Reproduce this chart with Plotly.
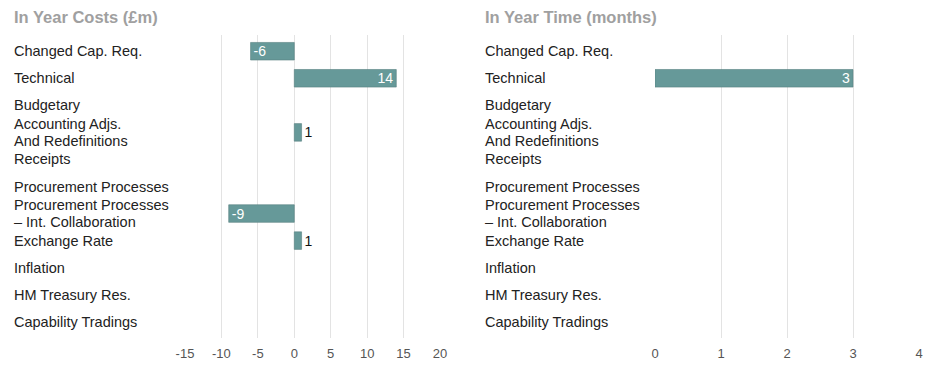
import plotly.graph_objects as go

categories = [
    "Changed Cap. Req.",
    "Technical",
    "Budgetary",
    "Accounting Adjs.<br>And Redefinitions",
    "Receipts",
    "Procurement Processes",
    "Procurement Processes<br>– Int. Collaboration",
    "Exchange Rate",
    "Inflation",
    "HM Treasury Res.",
    "Capability Tradings",
]
cost_values = [-6, 14, None, 1, None, None, -9, 1, None, None, None]
time_values = [None, 3, None, None, None, None, None, None, None, None, None]
cost_ticks = [-15, -10, -5, 0, 5, 10, 15, 20]
time_ticks = [0, 1, 2, 3, 4]
titles = ["In Year Costs (£m)", "In Year Time (months)"]

OFF = 8  # page body margin
W, H = 946 - OFF, 367 - OFF
BAR = "#669999"
FONT = "Liberation Sans, Arial, sans-serif"

def px_x(p):
    return (p - OFF) / W

def px_y(p):
    return 1 - (p - OFF) / H

def positions(vals):
    out = []
    for v in vals:
        if v is None:
            out.append("none")
        elif abs(v) >= 2:
            out.append("inside")
        else:
            out.append("outside")
    return out

def texts(vals):
    return ["" if v is None else str(v) for v in vals]

idx = list(range(len(categories)))

fig = go.Figure()
for xs, xa, ya in [(cost_values, "x", "y"), (time_values, "x2", "y2")]:
    fig.add_trace(go.Bar(
        x=xs, y=idx, orientation="h", xaxis=xa, yaxis=ya,
        marker=dict(color=BAR, line=dict(color="#587f7f", width=0.6)),
        text=texts(xs), textposition=positions(xs),
        insidetextanchor="end", textangle=0, constraintext="none",
        insidetextfont=dict(color="white", size=14, family=FONT),
        outsidetextfont=dict(color="#111111", size=14, family=FONT),
        cliponaxis=False, showlegend=False, hoverinfo="skip",
    ))

ydom = [px_y(338), px_y(35)]
common_x = dict(
    showgrid=True, gridcolor="#e3e3e3", gridwidth=1, zeroline=False,
    showline=False, ticks="", ticklabelstandoff=6,
    tickfont=dict(size=13, color="#555555", family=FONT),
)
common_y = dict(
    range=[len(categories) - 0.4, -0.6], showticklabels=False, showgrid=False,
    zeroline=False, showline=False, ticks="", domain=ydom,
)

fig.update_layout(
    width=W, height=H, autosize=False,
    margin=dict(l=0, r=0, t=0, b=0, pad=0, autoexpand=False),
    paper_bgcolor="white", plot_bgcolor="white",
    font=dict(family=FONT, size=13, color="#222222"),
    bargap=0.35,
    xaxis=dict(common_x, domain=[px_x(185), px_x(440)], range=[-15, 20],
               tickvals=cost_ticks, ticktext=[str(t) for t in cost_ticks], anchor="y"),
    yaxis=dict(common_y, anchor="x"),
    xaxis2=dict(common_x, domain=[px_x(655), px_x(919)], range=[0, 4],
                tickvals=time_ticks, ticktext=[str(t) for t in time_ticks], anchor="y2"),
    yaxis2=dict(common_y, anchor="x2"),
)

annotations = []
for xpx, title in zip([12, 483], titles):
    annotations.append(dict(
        x=px_x(xpx), y=px_y(17), xref="paper", yref="paper",
        xanchor="left", yanchor="middle", showarrow=False,
        text="<b>" + title + "</b>",
        font=dict(size=16.5, color="#a0a0a0", family=FONT),
    ))
LINE = 16.5
for xpx, yref in zip([12, 483], ["y", "y2"]):
    for i, c in enumerate(categories):
        lines = c.split("<br>")
        n = len(lines)
        for k, line in enumerate(lines):
            shift = ((n - 1) / 2 - k) * LINE
            annotations.append(dict(
                x=px_x(xpx), y=i, xref="paper", yref=yref,
                xanchor="left", yanchor="middle", align="left", showarrow=False,
                yshift=shift,
                text=line, font=dict(size=14.5, color="#222222", family=FONT),
            ))
fig.update_layout(annotations=annotations)

fig.write_html("out.html", config={"responsive": False, "displayModeBar": False})
